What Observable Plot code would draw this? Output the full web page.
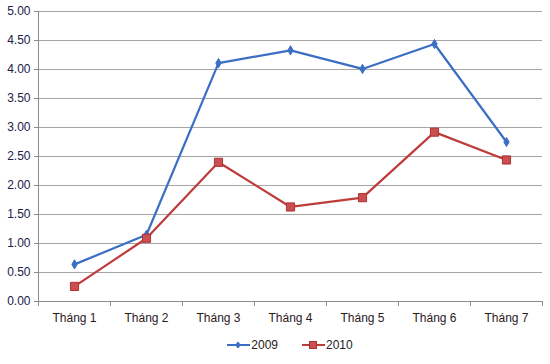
<!DOCTYPE html>
<html><head><meta charset="utf-8">
<script src="https://cdn.jsdelivr.net/npm/d3@7"></script>
<script src="https://cdn.jsdelivr.net/npm/@observablehq/plot@0.6"></script>
<style>
body{margin:0;background:#fff;font-family:Arial,"Liberation Sans",sans-serif;}
#legend{display:flex;justify-content:center;align-items:center;gap:24px;height:26px;padding-left:30px;font-size:12px;color:#222;}
#legend span{display:flex;align-items:center;gap:1px;}
</style>
</head><body>
<div id="chart"></div>
<div id="legend"></div>
<script>
const categories = ["Tháng 1","Tháng 2","Tháng 3","Tháng 4","Tháng 5","Tháng 6","Tháng 7"];
const values2009 = [0.64, 1.15, 4.11, 4.33, 4.01, 4.44, 2.75];
const values2010 = [0.26, 1.09, 2.40, 1.63, 1.79, 2.92, 2.44];
const yTicks = [0,0.5,1,1.5,2,2.5,3,3.5,4,4.5,5];
const seriesNames = ["2009","2010"];
const colors = ["#3B6FC4","#BE3B3B"];

const data = [];
categories.forEach((c,i)=>{
  data.push({idx:i+1, cat:c, value:values2009[i], series:"2009"});
  data.push({idx:i+1, cat:c, value:values2010[i], series:"2010"});
});
const centers = categories.map((c,i)=>i+1);
const bounds = [0, ...centers].map(v=>v+0.5);

const chart = Plot.plot({
  width:550, height:332,
  marginLeft:38, marginRight:8, marginTop:11, marginBottom:31,
  style:{fontFamily:"Arial, 'Liberation Sans', sans-serif", fontSize:"12px", color:"#222", background:"#fff"},
  x:{type:"linear", domain:[0.5, categories.length+0.5]},
  y:{domain:[0,5]},
  color:{domain:seriesNames, range:colors},
  marks:[
    Plot.gridY(yTicks,{stroke:"#A6A6A6", strokeOpacity:1}),
    Plot.axisY(yTicks,{tickSize:4, tickPadding:4, stroke:"#8C8C8C", tickFormat:d=>d.toFixed(2), fill:"#20204a", label:null}),
    Plot.axisX(bounds,{tickSize:5, stroke:"#8C8C8C", tickFormat:()=>"", label:null}),
    Plot.axisX(centers,{tickSize:0, tickPadding:12, tickFormat:d=>categories[d-1], fill:"#2a1a1a", label:null}),
    Plot.frame({anchor:"left", stroke:"#8C8C8C"}),
    Plot.frame({anchor:"bottom", stroke:"#8C8C8C"}),
    Plot.line(data,{x:"idx", y:"value", z:"series", stroke:"series", strokeWidth:2.2}),
    Plot.dot(data.filter(d=>d.series==="2009"),{x:"idx", y:"value", symbol:"diamond", r:2.8, fill:colors[0], stroke:colors[0], strokeWidth:1}),
    Plot.dot(data.filter(d=>d.series==="2010"),{x:"idx", y:"value", symbol:"square", r:4.6, fill:"#C85050", stroke:"#B03030", strokeWidth:1})
  ]
});
document.getElementById("chart").append(chart);

const lg = document.getElementById("legend");
const markers = [
  `<path d="M11,1.5 L14,5 L11,8.5 L8,5 Z" fill="${colors[0]}"/>`,
  `<rect x="7.5" y="1.5" width="7" height="7" fill="#C85050" stroke="#B03030"/>`
];
seriesNames.forEach((s,i)=>{
  const span = document.createElement("span");
  span.innerHTML = `<svg width="23" height="10"><line x1="0" x2="23" y1="5" y2="5" stroke="${colors[i]}" stroke-width="2"/>${markers[i]}</svg><span>${s}</span>`;
  lg.append(span);
});
</script>
</body></html>
